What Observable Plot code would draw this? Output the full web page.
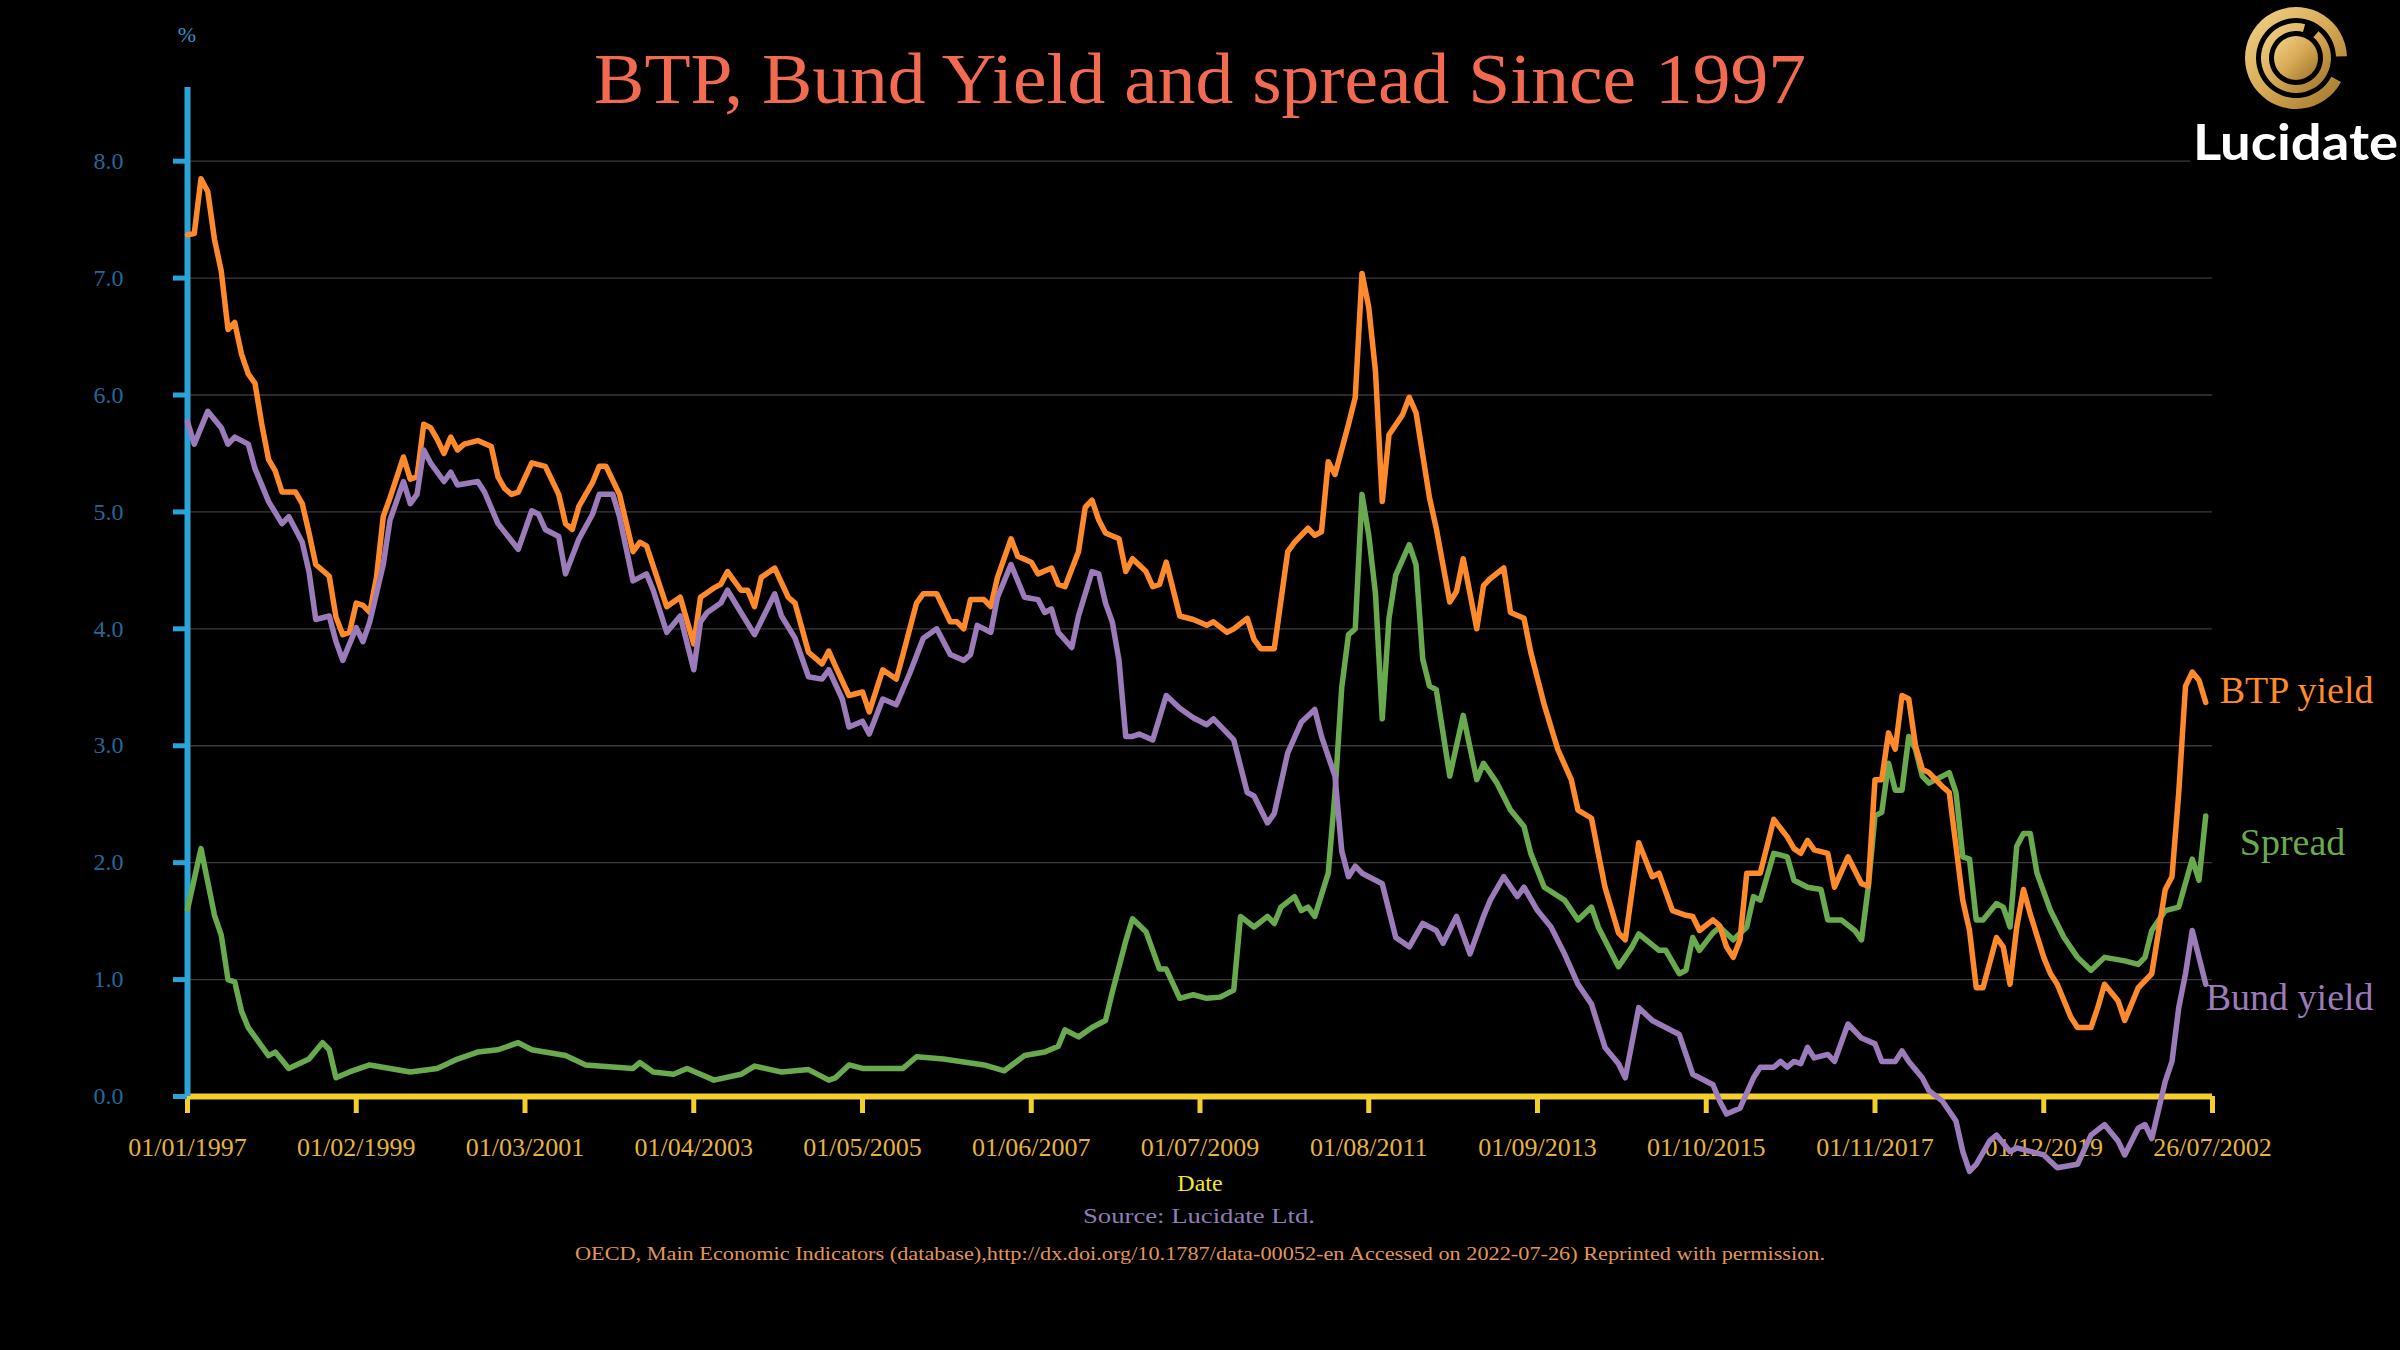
<!DOCTYPE html>
<html><head><meta charset="utf-8">
<script src="https://cdn.jsdelivr.net/npm/d3@7"></script>
<script src="https://cdn.jsdelivr.net/npm/@observablehq/plot@0.6"></script>
<style>
html,body{margin:0;padding:0;background:#000;}
#wrap{position:relative;width:2400px;height:1350px;overflow:hidden;background:#000;}
#wrap > svg{position:absolute;left:0;top:0;}
</style></head><body><div id="wrap"></div>
<script>
// ---- data (x = month index since 01/01/1997, y = %) ----
const btpYield = [[0,7.37],[1,7.38],[2,7.85],[3,7.74],[4,7.33],[5,7.06],[6,6.56],[7,6.62],[8,6.35],[9,6.18],[10,6.10],[11,5.75],[12,5.45],[13,5.35],[14,5.17],[16,5.17],[17,5.07],[18,4.82],[19,4.55],[21,4.45],[22,4.10],[23,3.95],[24,3.97],[25,4.22],[26,4.20],[27,4.14],[28,4.44],[29,4.96],[30,5.12],[32,5.47],[33,5.28],[34,5.30],[35,5.75],[36,5.72],[37,5.62],[38,5.50],[39,5.64],[40,5.53],[41,5.58],[43,5.61],[45,5.56],[46,5.30],[47,5.20],[48,5.15],[49,5.17],[51,5.42],[53,5.39],[55,5.15],[56,4.90],[57,4.85],[58,5.05],[60,5.25],[61,5.39],[62,5.39],[64,5.15],[66,4.66],[67,4.74],[68,4.71],[71,4.19],[73,4.27],[75,3.87],[76,4.27],[78,4.35],[79,4.38],[80,4.49],[82,4.33],[83,4.33],[84,4.19],[85,4.44],[87,4.52],[89,4.27],[90,4.22],[92,3.80],[94,3.70],[95,3.81],[96,3.68],[98,3.43],[100,3.46],[101,3.29],[103,3.65],[105,3.57],[106,3.78],[108,4.22],[109,4.30],[111,4.30],[113,4.06],[114,4.06],[115,4.00],[116,4.25],[118,4.25],[119,4.19],[120,4.44],[122,4.77],[123,4.62],[125,4.57],[126,4.47],[128,4.52],[129,4.38],[130,4.36],[132,4.66],[133,5.04],[134,5.10],[135,4.93],[136,4.82],[138,4.77],[139,4.49],[140,4.60],[142,4.49],[143,4.36],[144,4.38],[145,4.57],[147,4.11],[149,4.08],[151,4.03],[152,4.06],[154,3.97],[155,4.00],[157,4.09],[158,3.91],[159,3.83],[161,3.83],[163,4.66],[164,4.74],[166,4.86],[167,4.80],[168,4.83],[169,5.43],[170,5.32],[172,5.75],[173,5.98],[174,7.04],[175,6.75],[176,6.20],[177,5.09],[178,5.66],[180,5.83],[181,5.98],[182,5.85],[184,5.12],[185,4.86],[187,4.23],[188,4.32],[189,4.60],[191,4.00],[192,4.37],[193,4.43],[195,4.52],[196,4.14],[198,4.09],[199,3.80],[201,3.35],[203,2.97],[205,2.71],[206,2.45],[208,2.38],[209,2.08],[210,1.79],[212,1.40],[213,1.34],[215,2.17],[217,1.88],[218,1.91],[220,1.59],[222,1.55],[223,1.54],[224,1.42],[226,1.51],[227,1.46],[228,1.28],[229,1.19],[230,1.34],[231,1.91],[233,1.91],[234,2.14],[235,2.37],[237,2.22],[238,2.12],[239,2.08],[240,2.19],[241,2.11],[243,2.08],[244,1.79],[246,2.05],[248,1.82],[249,1.80],[250,2.71],[251,2.71],[252,3.11],[253,2.97],[254,3.43],[255,3.40],[256,3.00],[257,2.80],[258,2.77],[259,2.71],[260,2.65],[261,2.60],[263,1.68],[264,1.42],[265,0.93],[266,0.93],[268,1.36],[269,1.28],[270,0.96],[271,1.45],[272,1.77],[273,1.56],[275,1.19],[276,1.05],[277,0.96],[279,0.68],[280,0.59],[282,0.59],[283,0.76],[284,0.96],[286,0.82],[287,0.65],[289,0.93],[291,1.05],[293,1.77],[294,1.88],[295,2.60],[296,3.51],[297,3.63],[298,3.56],[299,3.37]];

const bundYield = [[0,5.77],[1,5.58],[3,5.86],[5,5.72],[6,5.58],[7,5.64],[9,5.58],[10,5.37],[12,5.09],[14,4.90],[15,4.96],[17,4.74],[18,4.49],[19,4.08],[21,4.11],[22,3.89],[23,3.73],[25,4.01],[26,3.89],[27,4.06],[29,4.55],[30,4.93],[32,5.26],[33,5.07],[34,5.15],[35,5.53],[36,5.42],[38,5.26],[39,5.34],[40,5.23],[43,5.26],[44,5.17],[46,4.90],[49,4.68],[51,5.01],[52,4.98],[53,4.85],[55,4.79],[56,4.47],[58,4.77],[60,4.98],[61,5.15],[63,5.15],[64,4.96],[66,4.41],[68,4.47],[69,4.33],[71,3.97],[73,4.11],[75,3.65],[76,4.06],[77,4.14],[79,4.22],[80,4.33],[82,4.14],[84,3.95],[87,4.30],[88,4.11],[90,3.92],[92,3.59],[94,3.57],[95,3.65],[97,3.40],[98,3.16],[100,3.21],[101,3.10],[103,3.40],[105,3.35],[107,3.62],[109,3.92],[111,4.00],[113,3.78],[115,3.73],[116,3.78],[117,4.03],[119,3.97],[120,4.27],[122,4.55],[124,4.27],[126,4.25],[127,4.14],[128,4.17],[129,3.97],[131,3.84],[132,4.11],[134,4.49],[135,4.47],[136,4.22],[137,4.06],[138,3.73],[139,3.08],[140,3.08],[141,3.10],[143,3.05],[144,3.24],[145,3.43],[147,3.32],[149,3.24],[151,3.18],[152,3.23],[153,3.17],[155,3.05],[157,2.60],[158,2.57],[160,2.34],[161,2.42],[163,2.94],[165,3.20],[167,3.31],[168,3.08],[170,2.74],[171,2.10],[172,1.88],[173,1.97],[174,1.91],[176,1.85],[177,1.82],[179,1.36],[181,1.28],[183,1.48],[185,1.42],[186,1.31],[188,1.54],[190,1.22],[192,1.54],[193,1.68],[195,1.88],[197,1.71],[198,1.79],[200,1.59],[202,1.45],[204,1.22],[206,0.96],[208,0.79],[210,0.42],[212,0.28],[213,0.16],[215,0.76],[217,0.65],[219,0.59],[221,0.53],[223,0.19],[225,0.13],[226,0.10],[227,-0.04],[228,-0.15],[230,-0.10],[232,0.16],[233,0.25],[235,0.25],[236,0.30],[237,0.25],[238,0.30],[239,0.28],[240,0.42],[241,0.33],[243,0.36],[244,0.30],[246,0.62],[248,0.50],[250,0.45],[251,0.30],[253,0.30],[254,0.39],[255,0.30],[257,0.16],[258,0.05],[260,-0.04],[262,-0.21],[263,-0.47],[264,-0.64],[265,-0.58],[267,-0.38],[268,-0.33],[270,-0.47],[271,-0.44],[273,-0.47],[275,-0.50],[277,-0.61],[280,-0.58],[282,-0.33],[284,-0.24],[286,-0.38],[287,-0.50],[289,-0.27],[290,-0.24],[291,-0.36],[293,0.13],[294,0.30],[295,0.76],[296,1.05],[297,1.42],[298,1.19],[299,0.96]];

const spread = [[0,1.60],[2,2.12],[4,1.55],[5,1.38],[6,1.00],[7,0.98],[8,0.73],[9,0.59],[12,0.35],[13,0.38],[15,0.24],[18,0.32],[20,0.46],[21,0.40],[22,0.16],[24,0.21],[27,0.27],[33,0.21],[37,0.24],[40,0.32],[43,0.38],[46,0.40],[49,0.46],[51,0.40],[56,0.35],[59,0.27],[66,0.24],[67,0.29],[69,0.21],[72,0.19],[74,0.24],[76,0.19],[78,0.14],[82,0.19],[84,0.26],[88,0.21],[92,0.23],[95,0.14],[96,0.16],[98,0.27],[100,0.24],[106,0.24],[108,0.34],[112,0.32],[118,0.27],[121,0.22],[124,0.35],[127,0.38],[129,0.43],[130,0.57],[132,0.51],[134,0.59],[136,0.65],[137,0.89],[139,1.33],[140,1.52],[142,1.41],[144,1.09],[145,1.09],[147,0.84],[149,0.87],[151,0.84],[153,0.85],[155,0.91],[156,1.54],[158,1.45],[160,1.54],[161,1.48],[162,1.62],[164,1.71],[165,1.59],[166,1.62],[167,1.54],[169,1.91],[170,2.60],[171,3.50],[172,3.95],[173,4.00],[174,5.15],[175,4.80],[176,4.30],[177,3.23],[178,4.09],[179,4.46],[181,4.72],[182,4.55],[183,3.74],[184,3.51],[185,3.48],[187,2.74],[189,3.26],[191,2.71],[192,2.85],[194,2.68],[196,2.45],[198,2.31],[199,2.08],[201,1.79],[204,1.68],[206,1.51],[208,1.62],[209,1.45],[212,1.11],[214,1.28],[215,1.39],[218,1.25],[219,1.25],[221,1.05],[222,1.08],[223,1.36],[224,1.25],[226,1.40],[227,1.45],[229,1.34],[231,1.45],[232,1.71],[233,1.68],[234,1.88],[235,2.08],[237,2.05],[238,1.85],[240,1.79],[242,1.77],[243,1.51],[245,1.51],[247,1.42],[248,1.34],[249,1.79],[250,2.40],[251,2.43],[252,2.85],[253,2.62],[254,2.62],[255,3.08],[256,2.97],[257,2.74],[258,2.68],[259,2.71],[261,2.77],[262,2.60],[263,2.05],[264,2.03],[265,1.51],[266,1.51],[268,1.65],[269,1.62],[270,1.45],[271,2.14],[272,2.25],[273,2.25],[274,1.91],[276,1.59],[278,1.36],[280,1.19],[282,1.08],[284,1.19],[287,1.16],[289,1.13],[290,1.19],[291,1.42],[293,1.59],[295,1.62],[297,2.03],[298,1.85],[299,2.40]];

const xTickMonths = [0,25,50,75,100,125,150,175,200,225,250,275,300];
const xTickLabels = ["01/01/1997","01/02/1999","01/03/2001","01/04/2003","01/05/2005","01/06/2007","01/07/2009","01/08/2011","01/09/2013","01/10/2015","01/11/2017","01/12/2019","26/07/2002"];
const yTicks = [0,1,2,3,4,5,6,7,8];
const seriesNames = ["BTP yield","Spread","Bund yield"];

// ---- build ----
const toRows = a => a.map(([m, v]) => ({m, v}));
const btp = toRows(btpYield), bund = toRows(bundYield), spr = toRows(spread);
const labelOf = new Map(xTickMonths.map((m, i) => [m, xTickLabels[i]]));
const X_MAX = 300, Y_TOP = 8.63;

const C = {btp:"#FF8A2B", bund:"#9C7BBA", spread:"#6AAA4E", grid:"#3a3a3a",
  yAxis:"#2AA3D8", yText:"#22699A", xAxis:"#F3CF2E", xText:"#E6B43C"};

const chart = Plot.plot({
  width: 2400, height: 1350,
  marginLeft: 187, marginRight: 188, marginTop: 87, marginBottom: 254,
  style: {background: "transparent", fontFamily: "Liberation Serif", overflow: "visible"},
  x: {domain: [0, X_MAX], axis: null, label: null},
  y: {domain: [0, Y_TOP], axis: null, label: null},
  marks: [
    Plot.gridY(yTicks.slice(1), {stroke: C.grid, strokeOpacity: 1, strokeWidth: 1.4}),
    Plot.ruleY([0], {stroke: C.xAxis, strokeWidth: 6}),
    Plot.axisX(xTickMonths, {anchor: "bottom", label: null, tickSize: 17, tickPadding: 24,
      stroke: C.xAxis, strokeWidth: 5, strokeLinecap: "butt", fill: C.xText, fontSize: 26,
      fontFamily: "Liberation Serif", tickFormat: d => labelOf.get(d)}),
    Plot.axisY(yTicks, {anchor: "left", label: null, tickSize: 14, tickPadding: 50,
      stroke: C.yAxis, strokeWidth: 5, strokeLinecap: "butt", fill: C.yText, fontSize: 24,
      fontFamily: "Liberation Serif", tickFormat: d => d.toFixed(1)}),
    Plot.ruleX([0], {y1: 0, y2: Y_TOP, stroke: C.yAxis, strokeWidth: 6}),
    Plot.line(spr, {x: "m", y: "v", stroke: C.spread, strokeWidth: 5.5, strokeLinejoin: "round"}),
    Plot.line(btp, {x: "m", y: "v", stroke: C.btp, strokeWidth: 5.5, strokeLinejoin: "round"}),
    Plot.line(bund, {x: "m", y: "v", stroke: C.bund, strokeWidth: 5.5, strokeLinejoin: "round"}),
    Plot.text([btp[btp.length-1]], {x: "m", y: "v", text: () => seriesNames[0], fill: C.btp,
      fontSize: 38, textAnchor: "start", lineAnchor: "bottom", dx: 14, dy: 1}),
    Plot.text([spr[spr.length-1]], {x: "m", y: "v", text: () => seriesNames[1], fill: C.spread,
      fontSize: 38, textAnchor: "start", lineAnchor: "bottom", dx: 34, dy: 39}),
    Plot.text([bund[bund.length-1]], {x: "m", y: "v", text: () => seriesNames[2], fill: C.bund,
      fontSize: 38, textAnchor: "start", lineAnchor: "bottom", dx: 0, dy: 26})
  ]
});
const wrap = document.getElementById("wrap");
wrap.appendChild(chart);

// ---- titles, captions, logo ----
const ov = d3.select(wrap).append("svg").attr("width", 2400).attr("height", 1350)
  .style("pointer-events", "none");
const serif = "Liberation Serif";
function txt(s, x, y, size, fill, extra = {}) {
  const t = ov.append("text").attr("x", x).attr("y", y).attr("text-anchor", extra.anchor || "middle")
    .attr("font-family", extra.family || serif).attr("font-size", size).attr("fill", fill).text(s);
  if (extra.weight) t.attr("font-weight", extra.weight);
  if (extra.len) t.attr("textLength", extra.len).attr("lengthAdjust", "spacingAndGlyphs");
  return t;
}
txt("BTP, Bund Yield and spread Since 1997", 1200, 103, 72, "#F26B50", {len: 1212});
txt("%", 187, 42, 22, "#2E90C6");
txt("Date", 1200, 1191, 24, "#F2E530");
txt("Source: Lucidate Ltd.", 1199, 1223, 22, "#8E7DB5", {len: 232});
txt("OECD,  Main Economic Indicators (database),http://dx.doi.org/10.1787/data-00052-en Accessed on 2022-07-26) Reprinted with permission.",
  1200, 1260, 18, "#E2955A", {len: 1250});

// logo
const defs = ov.append("defs");
const g = defs.append("linearGradient").attr("id", "gold").attr("x1", "0").attr("y1", "0").attr("x2", "1").attr("y2", "1");
g.append("stop").attr("offset", "0").attr("stop-color", "#F4D58C");
g.append("stop").attr("offset", "0.5").attr("stop-color", "#D6A955");
g.append("stop").attr("offset", "1").attr("stop-color", "#9A7128");
const lg = ov.append("g").attr("transform", "translate(2296,58)");
const deg = Math.PI / 180;
lg.append("path").attr("d", d3.arc()({innerRadius: 40, outerRadius: 51, startAngle: 118 * deg, endAngle: 448 * deg})).attr("fill", "url(#gold)");
lg.append("path").attr("d", d3.arc()({innerRadius: 27, outerRadius: 35, startAngle: 40 * deg, endAngle: 375 * deg})).attr("fill", "url(#gold)");
lg.append("circle").attr("r", 22).attr("fill", "url(#gold)");
ov.append("rect").attr("x", 2190).attr("y", 118).attr("width", 210).attr("height", 50).attr("fill", "#000");
txt("Lucidate", 2193, 160, 50, "#FFFFFF", {anchor: "start", family: "Lato", weight: "bold", len: 205});
</script></body></html>
